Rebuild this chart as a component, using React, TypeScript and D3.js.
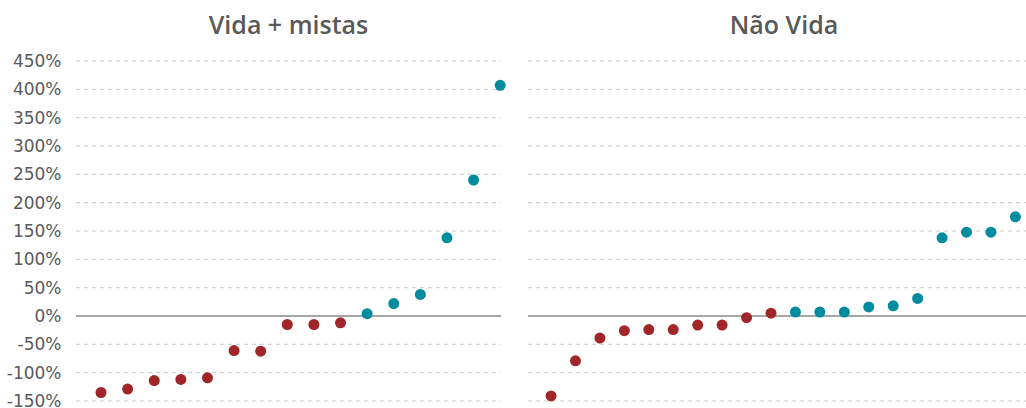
import React from "react";
import * as d3 from "d3";

// Rácios por entidade, ordenados (em %)
const vidaRed = [-135, -129, -114, -112, -109, -61, -62, -15, -15, -12];
const vidaTeal = [4, 22, 38, 138, 240, 407];
const naoVidaRed = [-141, -79, -39, -26, -24, -24, -16, -16, -3, 5];
const naoVidaTeal = [7, 7, 7, 16, 18, 31, 138, 148, 148, 175];

const yTicks = [-150, -100, -50, 0, 50, 100, 150, 200, 250, 300, 350, 400, 450];
const titles = ["Vida + mistas", "Não Vida"];

const W = 1026;
const H = 408;
const RED = "#A1262A";
const TEAL = "#008B9E";
const TEXT = "#595959";
const FONT = "'DejaVu Sans', sans-serif";
const TITLE_FONT = "'Open Sans', sans-serif";

const y = d3.scaleLinear().domain([-150, 450]).range([401, 61]);

type Panel = {
  title: string;
  red: number[];
  teal: number[];
  x: d3.ScaleLinear<number, number>;
  gridFrom: number;
  gridTo: number;
  center: number;
  axis: boolean;
};

const panels: Panel[] = [
  {
    title: titles[0],
    red: vidaRed,
    teal: vidaTeal,
    x: d3.scaleLinear().domain([0, 16]).range([74.4, 500.2]),
    gridFrom: 76,
    gridTo: 501,
    center: 288.5,
    axis: true,
  },
  {
    title: titles[1],
    red: naoVidaRed,
    teal: naoVidaTeal,
    x: d3.scaleLinear().domain([0, 20]).range([526.6, 1015.4]),
    gridFrom: 528,
    gridTo: 1040,
    center: 784,
    axis: false,
  },
];

function PanelView({ p }: { p: Panel }) {
  const pts = [
    ...p.red.map((v, i) => ({ v, i: i + 1, c: RED })),
    ...p.teal.map((v, i) => ({ v, i: p.red.length + i + 1, c: TEAL })),
  ];
  return (
    <g>
      <text
        x={p.center}
        y={34}
        textAnchor="middle"
        fontFamily={TITLE_FONT}
        fontSize={25}
        fontWeight={600}
        fill={TEXT}
      >
        {p.title}
      </text>
      {yTicks.map((t) => (
        <line
          key={t}
          x1={p.gridFrom}
          x2={p.gridTo}
          y1={y(t)}
          y2={y(t)}
          stroke={t === 0 ? "#a6a6a6" : "#c9c9c9"}
          strokeWidth={t === 0 ? 2 : 1}
          strokeDasharray={t === 0 ? undefined : "4,4"}
        />
      ))}
      {p.axis &&
        yTicks.map((t) => (
          <text
            key={"l" + t}
            x={61.5}
            y={y(t)}
            dy="0.36em"
            textAnchor="end"
            fontFamily={FONT}
            fontSize={17}
            fill={TEXT}
          >
            {t + "%"}
          </text>
        ))}
      {pts.map((d) => (
        <circle key={d.i} cx={p.x(d.i)} cy={y(d.v)} r={5.5} fill={d.c} />
      ))}
    </g>
  );
}

export default function App() {
  return (
    <svg
      width={W}
      height={H}
      style={{ position: "absolute", left: 0, top: 0, background: "#fff" }}
    >
      {panels.map((p) => (
        <PanelView key={p.title} p={p} />
      ))}
    </svg>
  );
}
